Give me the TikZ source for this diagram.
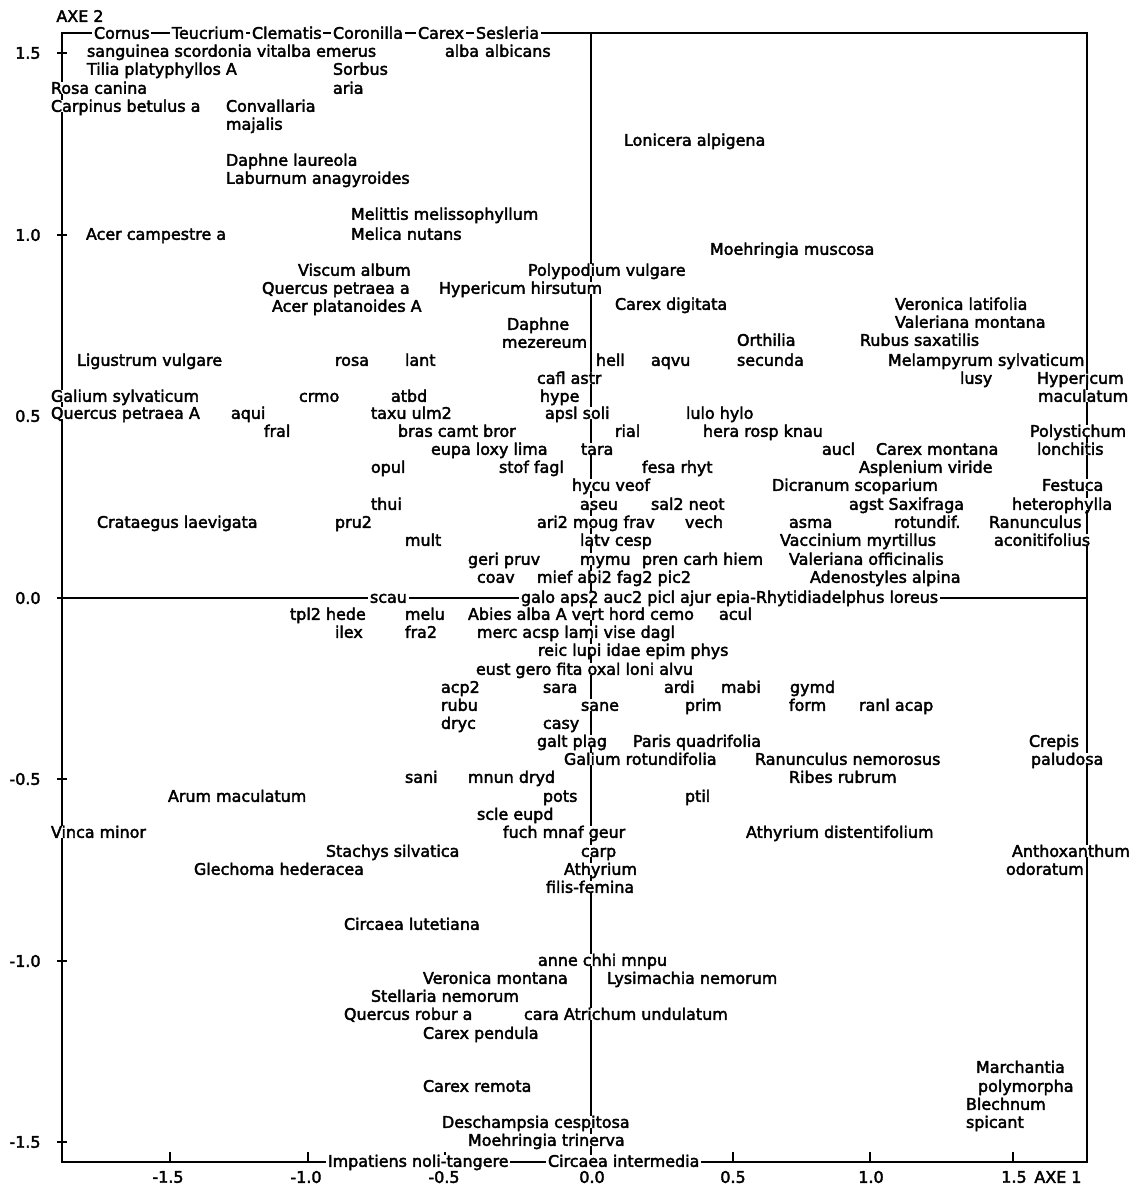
\documentclass[tikz,border=0pt]{standalone}
\usepackage{fontspec}
\setmainfont{DejaVu Sans}
\newfontfamily\spfam[FakeBold=2.5]{DejaVu Sans}
\newcommand\spfont{\spfam\fontsize{13.6pt}{16pt}\selectfont}

\tikzset{
  frame/.style={line width=0.9pt},
  sp/.style={anchor=west, fill=white, inner xsep=1.5pt, inner ysep=0.4pt,
    text height=9.9pt, text depth=0pt, font=\spfont},
  ticklab/.style={font=\spfont, inner sep=1pt},
}

\begin{document}
\begin{tikzpicture}[x=0.03cm,y=-0.03cm]
\useasboundingbox (0,0) rectangle (1130,1186);

% frame and the two axes
\draw[frame] (62,33) rectangle (1087,1162);
\draw[frame] (62,598) -- (1087,598);
\draw[frame] (591,33) -- (591,1162);

% ticks on the left side
\draw[frame] (57,53) -- (67,53);
\draw[frame] (57,235) -- (67,235);
\draw[frame] (57,416) -- (67,416);
\draw[frame] (57,598) -- (67,598);
\draw[frame] (57,779) -- (67,779);
\draw[frame] (57,961) -- (67,961);
\draw[frame] (57,1142) -- (67,1142);

% ticks on the bottom side
\draw[frame] (170,1162) -- (170,1152);
\draw[frame] (308,1162) -- (308,1152);
\draw[frame] (445,1162) -- (445,1152);
\draw[frame] (733,1162) -- (733,1152);
\draw[frame] (870,1162) -- (870,1152);
\draw[frame] (1013,1162) -- (1013,1152);

% axis labels
\node[ticklab, anchor=west] (axe2) at (55,16) {AXE 2};
\node[ticklab, anchor=west] (axe1) at (1033,1177) {AXE 1};
\node[ticklab, anchor=east] (y15) at (42,53) {1.5};
\node[ticklab, anchor=east] (y10) at (42,235) {1.0};
\node[ticklab, anchor=east] (y05) at (42,416) {0.5};
\node[ticklab, anchor=east] (y00) at (42,598) {0.0};
\node[ticklab, anchor=east] (ym05) at (42,779) {-0.5};
\node[ticklab, anchor=east] (ym10) at (42,961) {-1.0};
\node[ticklab, anchor=east] (ym15) at (42,1142) {-1.5};
\node[ticklab] (xm15) at (168,1177) {-1.5};
\node[ticklab] (xm10) at (306,1177) {-1.0};
\node[ticklab] (xm05) at (444,1177) {-0.5};
\node[ticklab] (x00) at (592,1177) {0.0};
\node[ticklab] (x05) at (733,1177) {0.5};
\node[ticklab] (x10) at (871,1177) {1.0};
\node[ticklab] (x15) at (1014,1177) {1.5};

% species, top part
\node[sp] (cornus) at (92,33) {Cornus};
\node[sp] (teucrium) at (170,33) {Teucrium};
\node[sp] (clematis) at (250,33) {Clematis};
\node[sp] (coronilla) at (331,33) {Coronilla};
\node[sp] (carex) at (416,33) {Carex};
\node[sp] (sesleria) at (474,33) {Sesleria};
\node[sp] (sanguinea) at (85,51) {sanguinea scordonia vitalba emerus};
\node[sp] (alba) at (443,51) {alba};
\node[sp] (albicans) at (483,51) {albicans};
\node[sp] (tilia) at (85,69) {Tilia platyphyllos A};
\node[sp] (sorbus) at (331,69) {Sorbus};
\node[sp] (rosacan) at (49,88) {Rosa canina};
\node[sp] (aria) at (331,88) {aria};
\node[sp] (carpinus) at (49,106) {Carpinus betulus a};
\node[sp] (convallaria) at (224,106) {Convallaria};
\node[sp] (majalis) at (224,124) {majalis};
\node[sp] (lonicera) at (622,140) {Lonicera alpigena};
\node[sp] (daphnelau) at (224,160) {Daphne laureola};
\node[sp] (laburnum) at (224,178) {Laburnum anagyroides};
\node[sp] (melittis) at (349,214) {Melittis melissophyllum};
\node[sp] (acercamp) at (84,234) {Acer campestre a};
\node[sp] (melica) at (349,234) {Melica nutans};
\node[sp] (moehrmusc) at (708,249) {Moehringia muscosa};
\node[sp] (viscum) at (296,270) {Viscum album};
\node[sp] (polypodium) at (526,270) {Polypodium vulgare};
\node[sp] (querpeta) at (260,288) {Quercus petraea a};
\node[sp] (hyphirs) at (437,288) {Hypericum hirsutum};
\node[sp] (carexdig) at (613,304) {Carex digitata};
\node[sp] (veronlat) at (893,304) {Veronica latifolia};
\node[sp] (acerplat) at (270,306) {Acer platanoides A};
\node[sp] (valermont) at (893,322) {Valeriana montana};
\node[sp] (daphne) at (505,324) {Daphne};
\node[sp] (orthilia) at (735,340) {Orthilia};
\node[sp] (rubus) at (858,340) {Rubus saxatilis};
\node[sp] (mezereum) at (500,342) {mezereum};
\node[sp] (ligustrum) at (75,360) {Ligustrum vulgare};
\node[sp] (rosa) at (333,360) {rosa};
\node[sp] (lant) at (403,360) {lant};
\node[sp] (hell) at (594,360) {hell};
\node[sp] (aqvu) at (649,360) {aqvu};
\node[sp] (secunda) at (735,360) {secunda};
\node[sp] (melampyrum) at (886,360) {Melampyrum sylvaticum};
\node[sp] (cafl) at (535,378) {cafl astr};
\node[sp] (lusy) at (958,378) {lusy};
\node[sp] (hypmac) at (1035,378) {Hypericum};
\node[sp] (galiumsyl) at (49,396) {Galium sylvaticum};
\node[sp] (crmo) at (297,396) {crmo};
\node[sp] (atbd) at (389,396) {atbd};
\node[sp] (hype) at (538,396) {hype};
\node[sp] (maculatum) at (1036,396) {maculatum};
\node[sp] (querpetA) at (49,413) {Quercus petraea A};
\node[sp] (aqui) at (229,413) {aqui};
\node[sp] (taxu) at (369,413) {taxu ulm2};
\node[sp] (apsl) at (543,413) {apsl soli};
\node[sp] (lulo) at (684,413) {lulo hylo};
\node[sp] (fral) at (262,431) {fral};
\node[sp] (bras) at (396,431) {bras camt bror};
\node[sp] (rial) at (613,431) {rial};
\node[sp] (hera) at (701,431) {hera rosp knau};
\node[sp] (polystichum) at (1028,431) {Polystichum};
\node[sp] (eupa) at (429,449) {eupa loxy lima};
\node[sp] (tara) at (579,449) {tara};
\node[sp] (aucl) at (820,449) {aucl};
\node[sp] (carexmont) at (874,449) {Carex montana};
\node[sp] (lonchitis) at (1035,449) {lonchitis};
\node[sp] (opul) at (369,467) {opul};
\node[sp] (stof) at (497,467) {stof fagl};
\node[sp] (fesa) at (640,467) {fesa rhyt};
\node[sp] (asplenium) at (857,467) {Asplenium viride};
\node[sp] (hycu) at (570,485) {hycu veof};
\node[sp] (dicranum) at (770,485) {Dicranum scoparium};
\node[sp] (festuca) at (1040,485) {Festuca};
\node[sp] (thui) at (369,504) {thui};
\node[sp] (aseu) at (578,504) {aseu};
\node[sp] (sal2) at (649,504) {sal2 neot};
\node[sp] (agst) at (847,504) {agst Saxifraga};
\node[sp] (heterophylla) at (1010,504) {heterophylla};
\node[sp] (crataegus) at (95,522) {Crataegus laevigata};
\node[sp] (pru2) at (333,522) {pru2};
\node[sp] (ari2) at (535,522) {ari2 moug frav};
\node[sp] (vech) at (683,522) {vech};
\node[sp] (asma) at (787,522) {asma};
\node[sp] (rotundif) at (892,522) {rotundif.};
\node[sp] (ranacon) at (987,522) {Ranunculus};
\node[sp] (mult) at (403,540) {mult};
\node[sp] (latv) at (578,540) {latv cesp};
\node[sp] (vaccinium) at (778,540) {Vaccinium myrtillus};
\node[sp] (aconitifolius) at (992,540) {aconitifolius};
\node[sp] (geri) at (466,559) {geri pruv};
\node[sp] (mymu) at (578,559) {mymu};
\node[sp] (pren) at (640,559) {pren carh hiem};
\node[sp] (valeroff) at (787,559) {Valeriana officinalis};
\node[sp] (coav) at (475,577) {coav};
\node[sp] (mief) at (535,577) {mief abi2 fag2 pic2};
\node[sp] (adenostyles) at (808,577) {Adenostyles alpina};

% species on and below the first axis
\node[sp] (scau) at (368,597) {scau};
\node[sp] (galo) at (519,597) {galo aps2 auc2 picl ajur epia-Rhytidiadelphus loreus};
\node[sp] (tpl2) at (288,614) {tpl2 hede};
\node[sp] (melu) at (403,614) {melu};
\node[sp] (abies) at (466,614) {Abies alba A vert hord cemo};
\node[sp] (acul) at (717,614) {acul};
\node[sp] (ilex) at (333,632) {ilex};
\node[sp] (fra2) at (403,632) {fra2};
\node[sp] (merc) at (475,632) {merc acsp lami vise dagl};
\node[sp] (reic) at (536,650) {reic lupi idae epim phys};
\node[sp] (eust) at (474,669) {eust gero fita oxal loni alvu};
\node[sp] (acp2) at (439,687) {acp2};
\node[sp] (sara) at (541,687) {sara};
\node[sp] (ardi) at (662,687) {ardi};
\node[sp] (mabi) at (719,687) {mabi};
\node[sp] (gymd) at (788,687) {gymd};
\node[sp] (rubu) at (439,705) {rubu};
\node[sp] (sane) at (579,705) {sane};
\node[sp] (prim) at (683,705) {prim};
\node[sp] (form) at (787,705) {form};
\node[sp] (ranl) at (857,705) {ranl acap};
\node[sp] (dryc) at (439,723) {dryc};
\node[sp] (casy) at (541,723) {casy};
\node[sp] (galt) at (535,741) {galt plag};
\node[sp] (paris) at (631,741) {Paris quadrifolia};
\node[sp] (crepis) at (1027,741) {Crepis};
\node[sp] (galiumrot) at (562,759) {Galium rotundifolia};
\node[sp] (rannem) at (753,759) {Ranunculus nemorosus};
\node[sp] (paludosa) at (1029,759) {paludosa};
\node[sp] (sani) at (403,777) {sani};
\node[sp] (mnun) at (466,777) {mnun dryd};
\node[sp] (ribes) at (787,777) {Ribes rubrum};
\node[sp] (arum) at (166,796) {Arum maculatum};
\node[sp] (pots) at (541,796) {pots};
\node[sp] (ptil) at (683,796) {ptil};
\node[sp] (scle) at (475,814) {scle eupd};
\node[sp] (vinca) at (49,832) {Vinca minor};
\node[sp] (fuch) at (501,832) {fuch mnaf geur};
\node[sp] (athyrdist) at (744,832) {Athyrium distentifolium};
\node[sp] (stachys) at (324,851) {Stachys silvatica};
\node[sp] (carp) at (579,851) {carp};
\node[sp] (anthoxanthum) at (1010,851) {Anthoxanthum};
\node[sp] (glechoma) at (192,869) {Glechoma hederacea};
\node[sp] (athyrium) at (562,869) {Athyrium};
\node[sp] (odoratum) at (1004,869) {odoratum};
\node[sp] (filis) at (544,887) {filis-femina};
\node[sp] (circlut) at (342,924) {Circaea lutetiana};
\node[sp] (anne) at (536,960) {anne chhi mnpu};
\node[sp] (veronmont) at (421,978) {Veronica montana};
\node[sp] (lysimachia) at (605,978) {Lysimachia nemorum};
\node[sp] (stellaria) at (369,996) {Stellaria nemorum};
\node[sp] (querrob) at (342,1014) {Quercus robur a};
\node[sp] (cara) at (522,1014) {cara Atrichum undulatum};
\node[sp] (carexpend) at (421,1033) {Carex pendula};
\node[sp] (marchantia) at (974,1067) {Marchantia};
\node[sp] (carexrem) at (421,1086) {Carex remota};
\node[sp] (polymorpha) at (976,1086) {polymorpha};
\node[sp] (blechnum) at (964,1104) {Blechnum};
\node[sp] (deschampsia) at (440,1122) {Deschampsia cespitosa};
\node[sp] (spicant) at (964,1122) {spicant};
\node[sp] (moehrtrin) at (466,1140) {Moehringia trinerva};
\node[sp] (impatiens) at (326,1161) {Impatiens noli-tangere};
\node[sp] (circint) at (546,1161) {Circaea intermedia};
\end{tikzpicture}
\end{document}
